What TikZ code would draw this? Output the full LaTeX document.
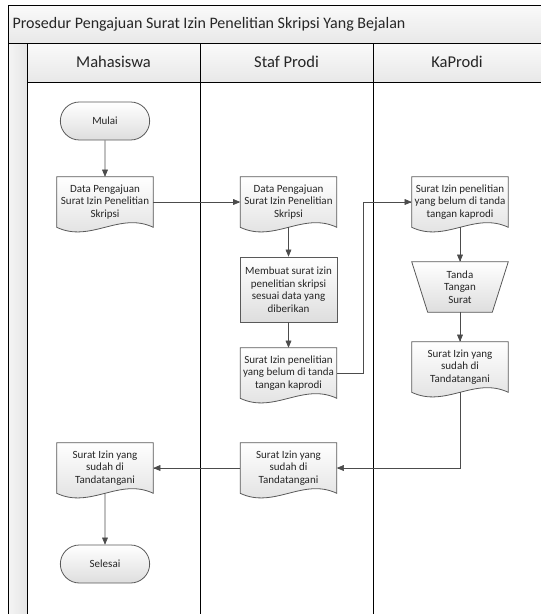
\documentclass[tikz,border=0pt]{standalone}
\usepackage{fontspec}
\setmainfont{Carlito}
\usetikzlibrary{arrows,positioning,calc,shapes.misc,backgrounds}

% outline of a document symbol round a node
\newcommand{\dokumen}[1]{%
  \draw[garis] (#1.north west) -- (#1.north east) -- (#1.south east)
    .. controls ($(#1.south east)!0.35!(#1.south west)+(0,16)$)
    and ($(#1.south east)!0.65!(#1.south west)+(0,-16)$) .. (#1.south west) -- cycle;}
% outline of a manual operation round a node
\newcommand{\manualop}[1]{%
  \draw[garis] (#1.north west) -- (#1.north east) -- ($(#1.south east)+(-16,0)$)
    -- ($(#1.south west)+(16,0)$) -- cycle;}

\begin{document}
\begin{tikzpicture}[->,>=triangle 45,x=1pt,y=1pt,node distance=81pt,
                    semithick,color=black!70]
  \tikzstyle{garis}=[-,draw=black!65,line width=0.8pt,top color=white,bottom color=black!13]
  \tikzstyle{teks}=[font=\fontsize{11}{12.5}\selectfont,align=center,text=black!85]
  \tikzstyle{terminal}=[teks,rounded rectangle,draw=black!65,line width=0.8pt,
                        top color=white,bottom color=black!13,minimum width=96pt,minimum height=38pt]
  \tikzstyle{dok}=[teks,minimum width=96pt,minimum height=50pt,inner sep=1pt]
  \tikzstyle{proses}=[teks,rectangle,draw=black!65,line width=0.8pt,inner sep=1pt,
                      top color=white,bottom color=black!13,minimum width=97pt,minimum height=65pt]
  \tikzstyle{ttd}=[teks,minimum width=96pt,minimum height=50pt]
  \tikzstyle{lajur}=[text=black!85,font=\fontsize{16.5}{18}\selectfont]

  \useasboundingbox (0,0) rectangle (541,-614);

  % swimlane frame
  \begin{scope}[-,on background layer,draw=black!60,line width=0.9pt]
    \fill[top color=black!2,bottom color=black!9] (8,-5) rectangle (560,-43);
    \fill[left color=black!4,right color=black!10] (8,-43) rectangle (27,-630);
    \fill[top color=black!2,bottom color=black!9] (27,-43) rectangle (560,-82);
    \draw (8,-5) rectangle (560,-630);
    \draw (8,-43) -- (560,-43);
    \draw (27,-82) -- (560,-82);
    \draw (27,-43) -- (27,-630);
    \draw (200,-43) -- (200,-630);
    \draw (373,-43) -- (373,-630);
  \end{scope}

  \node[anchor=west,text=black!85,font=\fontsize{16}{18}\selectfont] (judul) at (9,-24)
    {Prosedur Pengajuan Surat Izin Penelitian Skripsi Yang Bejalan};
  \node[lajur] (mhs) at (113.5,-62) {Mahasiswa};
  \node[lajur] (staf) at (286.5,-62) {Staf Prodi};
  \node[lajur] (kaprodi) at (457,-62) {KaProdi};

  \node[terminal] (mulai) at (105,-121) {Mulai};
  \node[dok] (doc1) [below of=mulai] {Data Pengajuan\\Surat Izin Penelitian\\Skripsi};
  \node[dok] (doc2) [right of=doc1,node distance=183.5pt] {Data Pengajuan\\Surat Izin Penelitian\\Skripsi};
  \node[proses] (proses) [below of=doc2,node distance=87.5pt]
    {Membuat surat izin\\penelitian skripsi\\sesuai data yang\\diberikan};
  \node[dok] (doc3) [below of=proses,node distance=83.5pt]
    {Surat Izin penelitian\\yang belum di tanda\\tangan kaprodi};
  \node[dok] (doc4) [right of=doc2,node distance=171.5pt]
    {Surat Izin penelitian\\yang belum di tanda\\tangan kaprodi};
  \node[ttd] (ttd) [below of=doc4,node distance=85pt] {Tanda\\Tangan\\Surat};
  \node[dok] (doc5) [below of=ttd,node distance=80pt] {Surat Izin yang\\sudah di\\Tandatangani};
  \node[dok] (doc6) [below of=doc3,node distance=95pt] {Surat Izin yang\\sudah di\\Tandatangani};
  \node[dok] (doc7) [left of=doc6,node distance=183.5pt] {Surat Izin yang\\sudah di\\Tandatangani};
  \node[terminal] (selesai) [below of=doc7,node distance=96pt] {Selesai};

  \begin{scope}[on background layer]
    \dokumen{doc1} \dokumen{doc2} \dokumen{doc3} \dokumen{doc4}
    \dokumen{doc5} \dokumen{doc6} \dokumen{doc7}
    \manualop{ttd}
  \end{scope}

  \coordinate (belok) at ($(doc3.east)+(26,0)$);

  \path
    (mulai) edge (doc1)
    (doc1) edge (doc2)
    (doc2) edge (proses)
    (proses) edge (doc3)
    (doc4) edge (ttd)
    (ttd) edge (doc5)
    (doc6) edge (doc7)
    (doc7) edge (selesai);
  \draw (doc3.east) -- (belok) |- (doc4.west);
  \draw (doc5.south) |- (doc6.east);
\end{tikzpicture}
\end{document}
